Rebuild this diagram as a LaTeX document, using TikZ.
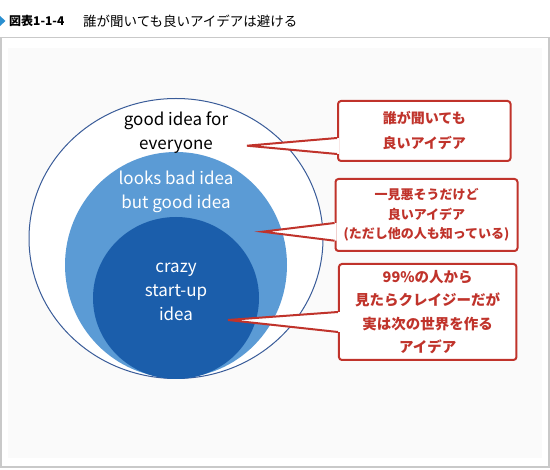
\documentclass[tikz,border=0pt]{standalone}
\usepackage{fontspec}
\newfontfamily\jpfont{Noto Sans CJK JP}
\usetikzlibrary{positioning}
\definecolor{ringblue}{HTML}{3A5C99}
\definecolor{midblue}{HTML}{5B9BD5}
\definecolor{deepblue}{HTML}{1B5EAB}
\definecolor{calloutred}{HTML}{C0332B}
\definecolor{markblue}{HTML}{2A8FD0}
\definecolor{framegray}{HTML}{C9C9C9}
\definecolor{panelgray}{HTML}{FAFAFA}
\tikzset{%
  every callout/.style={
    rectangle,
    rounded corners=3pt,
    draw=calloutred,
    line width=2pt,
    fill=white,
    inner sep=0pt,
    align=center,
    text=calloutred
  },
  pointer/.style={
    draw=calloutred,
    line width=2pt,
    line join=miter
  },
  ringtext/.style={
    align=center,
    inner sep=0pt,
    font=\jpfont\fontsize{17}{24}\selectfont
  },
}

\begin{document}
\begin{tikzpicture}[x=1pt,y=-1pt,font=\jpfont]
        \useasboundingbox (0,0) rectangle (550,470);
        \fill[white] (0,0) rectangle (550,470);
        \fill[panelgray] (8,48) rectangle (542,458);
        \draw[framegray,line width=1.5pt] (1,37.5) rectangle (549,467);

        \fill[markblue] (0,16) -- (5.5,21) -- (0,26) -- cycle;
        \node[anchor=west,inner sep=0pt,font=\jpfont\bfseries\fontsize{12}{12}\selectfont] (figno) at (9,21) {図表1-1-4};
        \node[anchor=west,inner sep=0pt,font=\jpfont\fontsize{13.5}{14}\selectfont] (title) at (83,21) {誰が聞いても良いアイデアは避ける};

        \draw[ringblue,line width=1pt,fill=white] (176,238.5) ellipse (147 and 140);
        \fill[midblue] (176,265) ellipse (111 and 113);
        \fill[deepblue] (176,298) ellipse (83 and 81);

        \node[ringtext] (everyone) at (176,133) {good idea for\\everyone};
        \node[ringtext,text=white] (looksbad) at (176,192) {looks bad idea\\but good idea};
        \node[ringtext,text=white,font=\jpfont\fontsize{17}{23.7}\selectfont] (crazy) at (176,292) {crazy\\start-up\\idea};

        \node[every callout,minimum width=172.5pt,minimum height=60pt,
              font=\jpfont\bfseries\fontsize{14}{25}\selectfont] (good) at (424.3,131)
          {誰が聞いても\\良いアイデア};
        \node[every callout,minimum width=182pt,minimum height=72pt,
              font=\jpfont\bfseries\fontsize{13}{19.5}\selectfont] (bad) at (426.5,215)
          {一見悪そうだけど\\良いアイデア\\(ただし他の人も知っている)};
        \node[every callout,minimum width=177.5pt,minimum height=96pt,
              font=\jpfont\bfseries\fontsize{14.5}{23.3}\selectfont] (startup) at (427.7,312)
          {99\%の人から\\見たらクレイジーだが\\実は次の世界を作る\\アイデア};

        \coordinate (goodtip) at (247,145.7);
        \coordinate (badtip) at (262.5,231.7);
        \coordinate (startuptip) at (228,320);

        \fill[white] (goodtip) -- ([xshift=2pt,yshift=-7pt]good.west) -- ([xshift=2pt,yshift=-23pt]good.west) -- cycle;
        \draw[pointer] ([yshift=-7pt]good.west) -- (goodtip) -- ([yshift=-23pt]good.west);
        \fill[white] (badtip) -- ([xshift=2pt,yshift=-8pt]bad.west) -- ([xshift=2pt,yshift=-25.7pt]bad.west) -- cycle;
        \draw[pointer] ([yshift=-8pt]bad.west) -- (badtip) -- ([yshift=-25.7pt]bad.west);
        \fill[white] (startuptip) -- ([xshift=2pt,yshift=0pt]startup.west) -- ([xshift=2pt,yshift=-20pt]startup.west) -- cycle;
        \draw[pointer] ([yshift=0pt]startup.west) -- (startuptip) -- ([yshift=-20pt]startup.west);
    \end{tikzpicture}
\end{document}
